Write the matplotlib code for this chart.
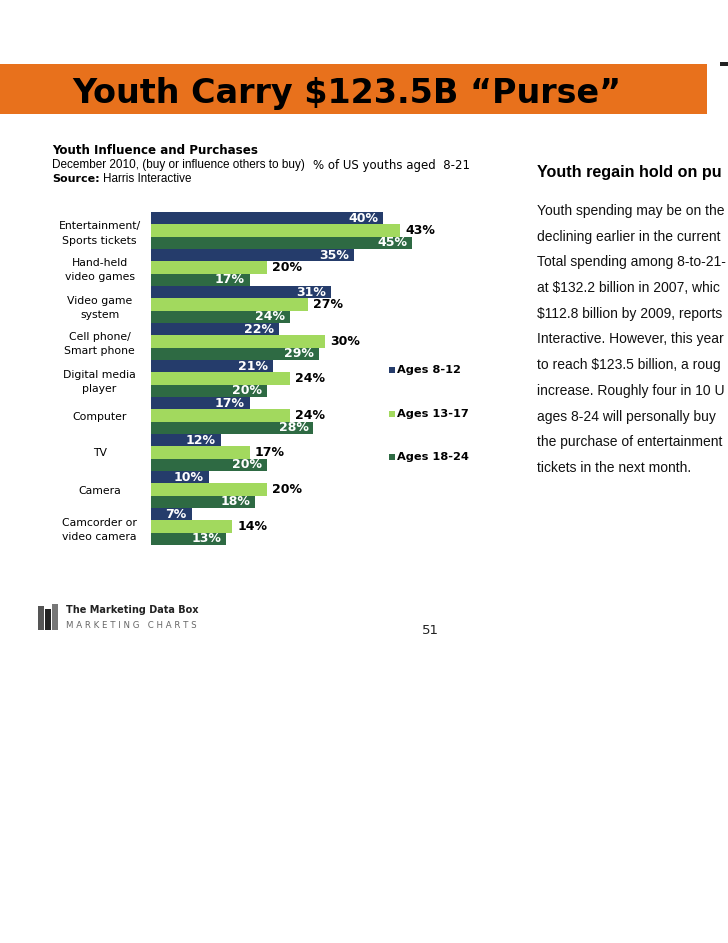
import matplotlib
matplotlib.use("Agg")
import matplotlib.pyplot as plt
from matplotlib.patches import Rectangle
import numpy as np

W, H = 728, 943

categories = ["Entertainment/\nSports tickets", "Hand-held\nvideo games", "Video game\nsystem",
              "Cell phone/\nSmart phone", "Digital media\nplayer", "Computer", "TV", "Camera",
              "Camcorder or\nvideo camera"]
series_names = ["Ages 8-12", "Ages 13-17", "Ages 18-24"]
ages_8_12 = [40, 35, 31, 22, 21, 17, 12, 10, 7]
ages_13_17 = [43, 20, 27, 30, 24, 24, 17, 20, 14]
ages_18_24 = [45, 17, 24, 29, 20, 28, 20, 18, 13]
colors = ["#253C6B", "#A2D95E", "#2E6A43"]

heading = "Youth regain hold on pu"
body_lines = [
    "Youth spending may be on the",
    "declining earlier in the current",
    "Total spending among 8-to-21-",
    "at $132.2 billion in 2007, whic",
    "$112.8 billion by 2009, reports",
    "Interactive. However, this year",
    "to reach $123.5 billion, a roug",
    "increase. Roughly four in 10 U",
    "ages 8-24 will personally buy",
    "the purchase of entertainment",
    "tickets in the next month.",
]

fig = plt.figure(figsize=(W / 100, H / 100), dpi=100)
fig.patch.set_facecolor("white")


def fx(x):
    return x / W


def fy(y):
    return 1 - y / H


# Orange banner
fig.patches.append(Rectangle((0, fy(114)), fx(707), (114 - 64) / H, transform=fig.transFigure,
                             facecolor="#E8711C", edgecolor="none", zorder=0))
fig.patches.append(Rectangle((fx(720), fy(66)), fx(8), 4 / H, transform=fig.transFigure,
                             facecolor="#222222", edgecolor="none"))
fig.text(fx(347), fy(93), "Youth Carry $123.5B \u201cPurse\u201d", ha="center", va="center",
         fontsize=24, fontweight="bold", family="DejaVu Sans", color="black")

# Chart header
fig.text(fx(52), fy(150), "Youth Influence and Purchases", ha="left", va="center",
         fontsize=8.6, fontweight="bold", family="DejaVu Sans")
fig.text(fx(52), fy(165), "December 2010, (buy or influence others to buy)", ha="left", va="center",
         fontsize=8.5, family="Liberation Sans")
fig.text(fx(313), fy(165), "% of US youths aged  8-21", ha="left", va="center",
         fontsize=8.5, family="DejaVu Sans")
fig.text(fx(52), fy(179), "Source:", ha="left", va="center", fontsize=8, fontweight="bold",
         family="DejaVu Sans")
fig.text(fx(103), fy(179), "Harris Interactive", ha="left", va="center", fontsize=8.4,
         family="Liberation Sans")

# Right text
fig.text(fx(537), fy(173), heading, ha="left", va="center",
         fontsize=11.6, fontweight="bold", family="Liberation Sans")
for i, line in enumerate(body_lines):
    fig.text(fx(537), fy(211 + i * 25.7), line, ha="left", va="center", fontsize=10.0,
             family="Liberation Sans", color="#111111")

# Bar chart
px_per_pct = 5.8
xmax = 50
ax = fig.add_axes([fx(151), fy(545), xmax * px_per_pct / W, (545 - 212) / H])
y = np.arange(len(categories))
h = 1 / 3
data = [ages_8_12, ages_13_17, ages_18_24]
for s, (vals, c) in enumerate(zip(data, colors)):
    pos = y - h + s * h
    bars = ax.barh(pos, vals, height=h, color=c, edgecolor="none", label=series_names[s])
    for b, v in zip(bars, vals):
        yc = b.get_y() + b.get_height() / 2
        if s == 1:
            ax.annotate(f"{v}%", (v, yc), xytext=(5, 0), textcoords="offset pixels",
                        ha="left", va="center", fontsize=9, fontweight="bold", color="black",
                        family="DejaVu Sans")
        else:
            ax.annotate(f"{v}%", (v, yc), xytext=(-5, 0), textcoords="offset pixels",
                        ha="right", va="center", fontsize=9, fontweight="bold", color="white",
                        family="DejaVu Sans")
ax.set_xlim(0, xmax)
ax.set_ylim(len(categories) - 0.5, -0.5)
ax.set_yticks(y)
ax.set_yticklabels(categories, ha="center", fontsize=7.8, family="DejaVu Sans", linespacing=1.5)
ax.tick_params(axis="y", length=0, pad=37)
ax.set_xticks([])
for sp in ax.spines.values():
    sp.set_visible(False)
ax.patch.set_alpha(0)

# Legend
leg_y = [370, 414, 457]
for name, c, ly in zip(series_names, colors, leg_y):
    fig.patches.append(Rectangle((fx(389), fy(ly + 3)), fx(6), 6 / H, transform=fig.transFigure,
                                 facecolor=c, edgecolor="none"))
    fig.text(fx(397), fy(ly), name, ha="left", va="center", fontsize=8.2, fontweight="bold",
             family="DejaVu Sans")

# Footer logo
for (x0, x1, y0, col) in [(38, 44, 606, "#555555"), (45, 51, 609, "#222222"), (52, 58, 604, "#777777")]:
    fig.patches.append(Rectangle((fx(x0), fy(630)), fx(x1 - x0), (630 - y0) / H,
                                 transform=fig.transFigure, facecolor=col, edgecolor="none"))
fig.text(fx(66), fy(610), "The Marketing Data Box", ha="left", va="center", fontsize=7.0,
         fontweight="bold", family="DejaVu Sans", color="#222222")
fig.text(fx(66), fy(626), "M A R K E T I N G   C H A R T S", ha="left", va="center", fontsize=6.2,
         family="DejaVu Sans", color="#666666")
fig.text(fx(430), fy(631), "51", ha="center", va="center", fontsize=9.5, family="DejaVu Sans",
         color="#222222")

fig.savefig("out.png", dpi=100, facecolor="white")
